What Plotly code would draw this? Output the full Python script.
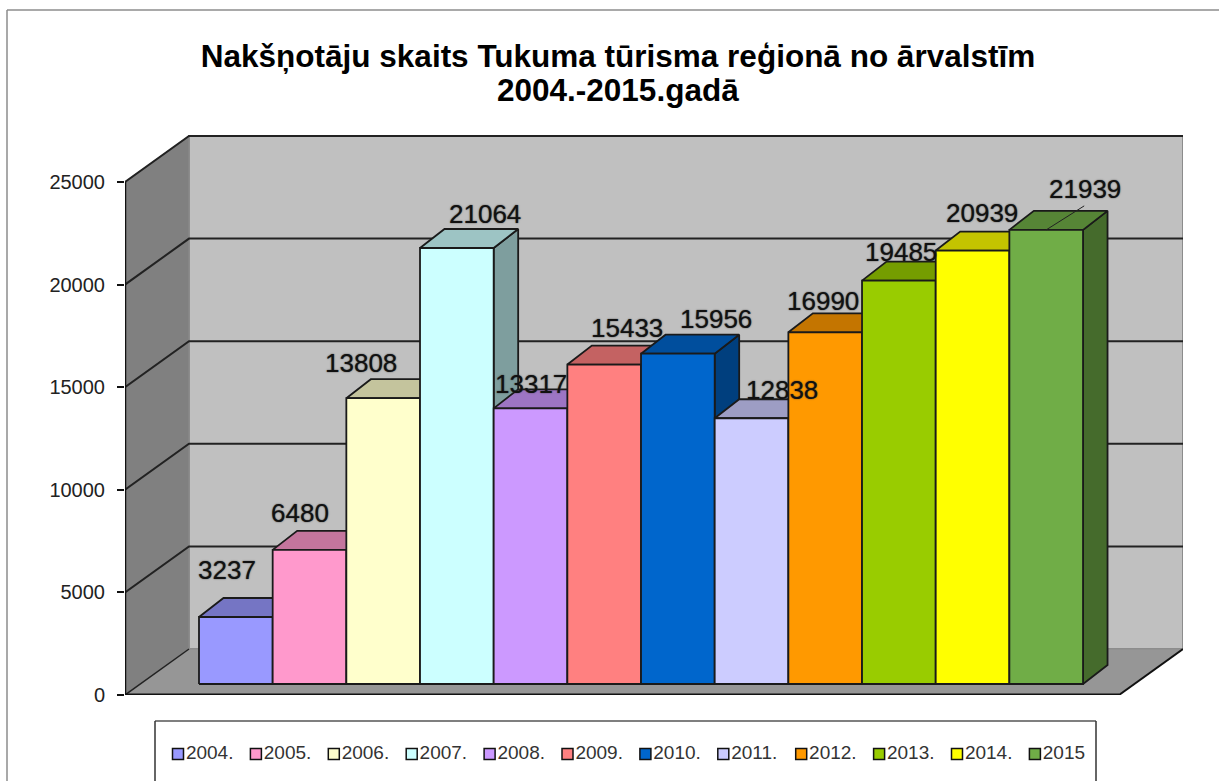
import plotly.graph_objects as go

# ---------- data ----------
legend_labels = ["2004.", "2005.", "2006.", "2007.", "2008.", "2009.", "2010.", "2011.", "2012.", "2013.", "2014.", "2015"]
values = [3237, 6480, 13808, 21064, 13317, 15433, 15956, 12838, 16990, 19485, 20939, 21939]
front_colors = ["#9999FF", "#FF99CC", "#FFFFCC", "#CCFFFF", "#CC99FF", "#FF8080",
                "#0066CC", "#CCCCFF", "#FF9900", "#99CC00", "#FFFF00", "#70AD47"]
y_ticks = [0, 5000, 10000, 15000, 20000, 25000]
title_line1 = "Nakšņotāju skaits Tukuma tūrisma reģionā no ārvalstīm"
title_line2 = "2004.-2015.gadā"

# data-label nudges relative to the bar's front-top centre (pixels)
label_dx = [-9, -10, -22, 28, 0, 23, 38, 30, -2, 2, 9, 39]
label_dy = [47, 37, 35, 34, 24, 37, 35, 28, 31, 29, 38, 41]

# ---------- geometry ----------
W, H = 1219, 781
FONT = "Liberation Sans, Arial, sans-serif"
bar_px = 73.67
bar_left_px = 199
plot_l, plot_r, plot_t, plot_b = 125, 1183, 135, 695
val_px = 513 / 25000          # main axis scale
bar_val_px = 0.0207           # scale of the (nearer) bars
bar_base_px = 684

x_min = (plot_l - bar_left_px) / bar_px
x_max = (plot_r - bar_left_px) / bar_px
y_max = (plot_b - plot_t) / val_px
wall_dx = 64 / bar_px
wall_dy = 46 / val_px
bar_dx = 24.5 / bar_px
bar_dy = 19 / bar_val_px


def shade(hex_color, k):
    r, g, b = (int(hex_color[i:i + 2], 16) for i in (1, 3, 5))
    return f"rgb({int(r * k)},{int(g * k)},{int(b * k)})"


fig = go.Figure()


def poly(xs, ys, fill, line="#1A1A1A", lw=1.8, yaxis="y", name=None):
    fig.add_trace(go.Scatter(
        x=xs + xs[:1], y=ys + ys[:1], mode="lines", fill="toself", fillcolor=fill,
        line=dict(color=line, width=lw), yaxis=yaxis, xaxis="x",
        hoverinfo="skip", showlegend=False, name=name))


def line(xs, ys, color="#111111", lw=2, yaxis="y", xaxis="x"):
    fig.add_trace(go.Scatter(
        x=xs, y=ys, mode="lines", line=dict(color=color, width=lw), yaxis=yaxis, xaxis=xaxis,
        hoverinfo="skip", showlegend=False, cliponaxis=False))


# walls + floor
poly([x_min + wall_dx, x_max, x_max, x_min + wall_dx], [wall_dy, wall_dy, 25000 + wall_dy, 25000 + wall_dy],
     "#C0C0C0", line="#8C8C8C", lw=2, name="back wall")
poly([x_min, x_min + wall_dx, x_min + wall_dx, x_min], [0, wall_dy, 25000 + wall_dy, 25000],
     "#808080", line="#8C8C8C", lw=1, name="side wall")
poly([x_min, x_min + wall_dx, x_max, x_max - wall_dx], [0, wall_dy, wall_dy, 0],
     "#969696", line="#8C8C8C", lw=1, name="floor")

# gridlines on walls
for v in y_ticks[1:]:
    line([x_min, x_min + wall_dx, x_max], [v, v + wall_dy, v + wall_dy], color="#222222", lw=2)
line([x_min, x_min + wall_dx], [0, wall_dy], color="#222222", lw=1.5)
line([x_max - wall_dx, x_max], [0, wall_dy], color="#111111", lw=2)
line([x_min, x_max - wall_dx], [0, 0], color="#111111", lw=3)
line([x_min, x_min], [0, 25000], color="#111111", lw=2.5)

# bars: painted left to right on the nearer-value axis
for i, (v, c) in enumerate(zip(values, front_colors)):
    base = 0
    poly([i + 1, i + 1 + bar_dx, i + 1 + bar_dx, i + 1], [base, base + bar_dy, v + bar_dy, v],
         shade(c, 0.62), yaxis="y2", name=legend_labels[i] + " side")
    poly([i, i + bar_dx, i + 1 + bar_dx, i + 1], [v, v + bar_dy, v + bar_dy, v],
         shade(c, 0.77), yaxis="y2", name=legend_labels[i] + " top")
    poly([i, i + 1, i + 1, i], [base, base, v, v], c, yaxis="y2", name=legend_labels[i])

# leader line of the last label
line([11.5, 11.5 + 38 / bar_px], [values[-1], values[-1] + 24 / bar_val_px],
     color="#222222", lw=1, yaxis="y2")

# data labels
SHADOW = "0px 0px 1.5px #333333"
annotations = [
    dict(x=i + 0.5, y=v, xref="x", yref="y2", text=str(v), showarrow=False,
         xshift=label_dx[i], yshift=label_dy[i],
         font=dict(family=FONT, size=26, color="#111111", shadow=SHADOW))
    for i, v in enumerate(values)
]
annotations.append(dict(x=618 / W, y=1 - 90 / H, xref="paper", yref="paper", text=f"<b>{title_line2}</b>",
                        showarrow=False, xanchor="center", yanchor="middle",
                        font=dict(family=FONT, size=31.5, color="#000000")))

# legend row drawn on a page-sized helper axis
legend_x0, legend_step, legend_y = 178, 77.9, 754
for i, (lab, c) in enumerate(zip(legend_labels, front_colors)):
    fig.add_trace(go.Scatter(
        x=[legend_x0 + legend_step * i], y=[legend_y], mode="markers+text", text=[lab],
        textposition="middle right", textfont=dict(family=FONT, size=19, color="#333333"),
        marker=dict(symbol="square", size=11, color=c, line=dict(color="#111111", width=1.5)),
        xaxis="x3", yaxis="y3", hoverinfo="skip", showlegend=False, name=lab, cliponaxis=False))

shapes = [
    dict(type="line", xref="paper", yref="paper", x0=7 / W, x1=1, y0=1 - 10 / H, y1=1 - 10 / H,
         line=dict(color="#8C8C8C", width=1.5), layer="below"),
    dict(type="line", xref="paper", yref="paper", x0=7 / W, x1=7 / W, y0=0, y1=1 - 10 / H,
         line=dict(color="#8C8C8C", width=1.5), layer="below"),
    dict(type="line", xref="paper", yref="paper", x0=155 / W, x1=1096 / W, y0=1 - 721 / H, y1=1 - 721 / H,
         line=dict(color="#555555", width=1.5), layer="below"),
    dict(type="line", xref="paper", yref="paper", x0=155 / W, x1=155 / W, y0=0, y1=1 - 721 / H,
         line=dict(color="#333333", width=1.5), layer="below"),
    dict(type="line", xref="paper", yref="paper", x0=1096 / W, x1=1096 / W, y0=0, y1=1 - 721 / H,
         line=dict(color="#333333", width=1.5), layer="below"),
]

dom_y = [1 - plot_b / H, 1 - plot_t / H]
fig.update_layout(
    width=W, height=H, margin=dict(l=0, r=0, t=0, b=0, autoexpand=False),
    paper_bgcolor="white", plot_bgcolor="rgba(0,0,0,0)", showlegend=False,
    title=dict(text=f"<b>{title_line1}</b>", x=618 / W, xanchor="center", y=1 - 56 / H, yanchor="middle",
               font=dict(family=FONT, size=31.5, color="#000000")),
    xaxis=dict(domain=[plot_l / W, plot_r / W], range=[x_min, x_max], visible=False, fixedrange=True),
    yaxis=dict(domain=dom_y, range=[0, y_max], tickvals=y_ticks, tickformat="d", ticks="outside", ticklen=7,
               tickcolor="#111111", tickwidth=1.5, showgrid=False, zeroline=False, showline=False,
               ticklabelstandoff=8, tickfont=dict(family=FONT, size=20, color="#222222"), fixedrange=True),
    yaxis2=dict(domain=dom_y, overlaying="y", anchor="x", visible=False, fixedrange=True,
                range=[(bar_base_px - plot_b) / bar_val_px, (bar_base_px - plot_t) / bar_val_px]),
    xaxis3=dict(domain=[0, 1], range=[0, W], visible=False, anchor="y3", fixedrange=True),
    yaxis3=dict(domain=[0, 1], range=[H, 0], visible=False, anchor="x3", fixedrange=True),
    annotations=annotations, shapes=shapes,
)
fig.write_html("out.html", config={"displayModeBar": False},
               post_script="document.body.style.margin='0';document.body.style.overflow='hidden';")
